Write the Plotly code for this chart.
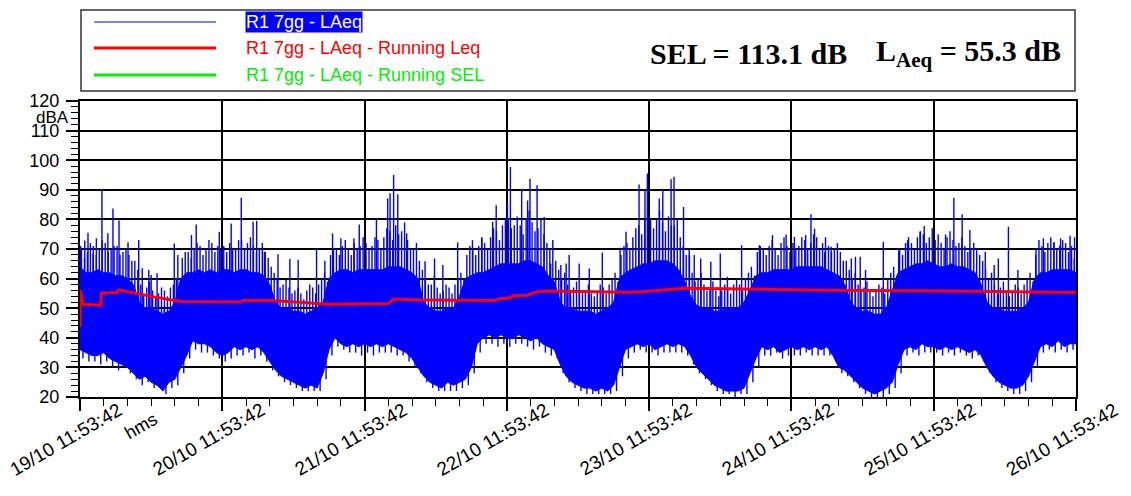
import numpy as np
import pandas as pd
import plotly.graph_objects as go

START = "2023-10-19 11:53:42"
N_DAYS = 7

# ---- LAeq band: hourly envelope (dB), hours 0..168 ----
band_hour = list(range(169))
band_top = [
    64, 62, 62, 63, 62, 62, 61, 61, 60, 58, 52, 50, 50, 49, 48, 49, 52, 60, 62, 62, 63, 62, 63, 62,
    63, 63, 62, 63, 63, 62, 62, 61, 58, 52, 50, 50, 49, 49, 48, 49, 50, 52, 60, 62, 63, 63, 62, 63,
    63, 63, 63, 63, 64, 64, 64, 63, 62, 60, 52, 50, 49, 49, 50, 50, 54, 60, 61, 62, 62, 63, 64, 65,
    65, 65, 65, 66, 66, 65, 64, 61, 59, 52, 50, 50, 49, 49, 49, 48, 49, 50, 52, 60, 62, 63, 64, 65,
    65, 66, 66, 66, 65, 63, 59, 54, 51, 50, 50, 49, 49, 50, 50, 50, 52, 56, 61, 62, 62, 63, 63, 63,
    63, 64, 64, 64, 64, 64, 63, 62, 61, 58, 52, 50, 49, 49, 48, 48, 50, 56, 62, 63, 64, 65, 65, 66,
    65, 64, 64, 65, 64, 64, 63, 62, 58, 52, 50, 50, 49, 49, 49, 50, 52, 60, 62, 62, 63, 63, 63, 63, 62,
]
band_bottom = [
    36, 35, 34, 34, 35, 33, 32, 31, 30, 28, 26, 27, 25, 24, 22, 25, 26, 30, 34, 39, 38, 38, 37, 35,
    34, 35, 37, 36, 37, 36, 37, 35, 32, 29, 27, 26, 25, 24, 23, 24, 23, 28, 36, 40, 38, 37, 38, 37,
    38, 37, 38, 37, 38, 37, 36, 35, 33, 30, 27, 25, 24, 23, 25, 24, 25, 26, 30, 38, 40, 41, 40, 41,
    40, 40, 41, 40, 39, 40, 38, 37, 36, 31, 27, 25, 24, 23, 23, 22, 23, 22, 24, 30, 36, 37, 38, 37,
    38, 36, 37, 38, 37, 38, 37, 34, 30, 28, 26, 24, 23, 22, 22, 22, 23, 28, 33, 37, 36, 37, 35, 36,
    37, 36, 37, 36, 37, 36, 37, 34, 30, 29, 27, 25, 23, 22, 21, 22, 23, 25, 31, 36, 37, 36, 38, 37,
    37, 36, 37, 36, 37, 36, 35, 36, 34, 30, 27, 25, 24, 23, 23, 24, 27, 32, 37, 38, 37, 39, 37, 38, 38,
]

# ---- typical high strokes within each hour (early / late in the hour), dB ----
hour_peak = [
    70, 69, 71, 70, 72, 70, 71, 69, 68, 66, 58, 57, 56, 55, 56, 57, 60, 67, 69, 70, 71, 70, 72, 71,
    71, 72, 70, 73, 72, 71, 70, 69, 64, 60, 58, 57, 56, 55, 56, 57, 58, 62, 68, 70, 71, 70, 72, 71,
    72, 71, 73, 74, 76, 78, 76, 73, 70, 66, 60, 58, 57, 56, 57, 58, 62, 68, 70, 71, 72, 74, 76, 78,
    80, 78, 78, 80, 79, 77, 75, 70, 66, 60, 58, 57, 56, 56, 55, 56, 57, 58, 62, 68, 72, 74, 78, 80,
    80, 80, 79, 81, 78, 74, 68, 62, 60, 58, 57, 56, 56, 57, 58, 58, 60, 64, 69, 70, 71, 70, 72, 71,
    72, 71, 73, 72, 74, 72, 71, 70, 69, 66, 60, 58, 57, 56, 56, 57, 60, 64, 70, 72, 72, 74, 75, 74,
    73, 72, 74, 73, 72, 71, 70, 70, 66, 60, 58, 57, 56, 56, 57, 58, 62, 70, 71, 72, 72, 71, 72, 71,
]
hour_peak2 = [
    67, 72, 68, 73, 69, 71, 68, 70, 66, 63, 55, 59, 54, 57, 54, 58, 57, 69, 67, 72, 68, 73, 69, 70,
    69, 70, 73, 70, 74, 69, 72, 67, 62, 57, 60, 55, 57, 53, 58, 55, 60, 59, 70, 68, 73, 68, 70, 74,
    70, 74, 70, 77, 73, 75, 79, 70, 72, 63, 58, 61, 55, 58, 55, 60, 60, 71, 68, 74, 70, 77, 73, 80,
    77, 81, 75, 83, 76, 80, 72, 73, 63, 62, 56, 59, 55, 58, 54, 58, 55, 60, 59, 71, 70, 77, 75, 82,
    77, 83, 76, 78, 80, 71, 70, 59, 62, 56, 59, 54, 58, 55, 60, 56, 62, 61, 71, 68, 73, 68, 74, 69,
    70, 74, 70, 75, 70, 74, 69, 72, 66, 63, 62, 56, 59, 54, 58, 55, 62, 61, 68, 74, 70, 76, 72, 77,
    75, 70, 76, 71, 74, 69, 72, 68, 63, 62, 55, 59, 54, 58, 55, 60, 59, 73, 69, 74, 70, 73, 69, 74,
]
hour_dip = [
    33, 32, 32, 31, 32, 30, 29, 30, 28, 26, 24, 25, 23, 23, 21, 23, 24, 28, 33, 36, 35, 35, 34, 33,
    32, 33, 34, 34, 35, 33, 34, 32, 29, 27, 25, 24, 23, 22, 22, 22, 22, 26, 34, 37, 36, 35, 35, 34,
    35, 34, 35, 35, 35, 34, 34, 32, 30, 28, 25, 23, 22, 22, 22, 22, 23, 24, 28, 35, 38, 38, 37, 38,
    37, 38, 38, 37, 36, 37, 35, 34, 33, 28, 25, 23, 22, 21, 21, 21, 21, 21, 22, 27, 33, 35, 36, 35,
    35, 34, 35, 35, 35, 35, 34, 31, 28, 26, 24, 22, 21, 21, 20, 21, 21, 25, 30, 34, 34, 35, 33, 34,
    34, 34, 35, 34, 34, 34, 34, 32, 28, 27, 25, 23, 21, 20, 20, 20, 21, 23, 28, 34, 35, 34, 35, 35,
    35, 34, 35, 34, 35, 34, 33, 34, 32, 28, 25, 23, 22, 21, 21, 22, 25, 30, 35, 36, 35, 36, 35, 36,
]

# ---- isolated LAeq peaks (hour, dB) ----
spike_hour = [
    0.1, 0.8, 1.35, 2.2, 2.76, 3.7, 4.7, 5.56, 6.58, 8.1, 9.9, 10.5, 11.6, 12.0, 13.0, 14.2, 15.9, 16.5,
    18.8, 19.6, 23.5, 25.5, 27.2, 29.2, 29.8, 31.1, 33.4, 35.4, 36.8, 39.9, 41.3,
    42.6, 44.0, 46.2, 47.1, 50.0, 51.9, 52.3, 52.9, 53.6, 55.1, 58.2, 59.8, 61.2, 63.7,
    66.2, 67.8, 69.6, 70.2, 72.1, 72.6, 74.5, 75.5, 75.9, 77.1, 78.3, 79.4, 81.1, 82.0, 82.5,
    84.2, 85.9, 88.1, 91.1, 92.1, 94.3, 95.3, 95.7, 97.7, 98.3, 99.7, 100.2, 101.8,
    102.8, 103.6, 104.7, 106.4, 108.0, 109.2, 111.6, 114.6, 116.8, 119.1, 120.5, 122.4, 123.3, 123.9, 125.6,
    126.7, 130.1, 130.8, 131.6, 132.5, 135.5, 138.1, 139.6, 141.7, 142.4, 146.0, 147.4, 148.8, 150.1,
    152.7, 154.2, 154.9, 156.6, 158.2, 161.2, 162.5, 164.3, 165.4, 167.0, 167.7,
]
spike_db = [
    71, 72.9, 75.5, 68.5, 73.6, 90, 75.3, 83.7, 79.6, 72.3, 73.0, 63.5, 62.9, 61.2, 61.8, 50.5, 71.9, 68.0,
    74.7, 78.3, 75.8, 78.6, 87.3, 79.2, 79.5, 69.1, 68.2, 66.6, 66.4, 70.0, 66.0,
    75.3, 73.6, 73.6, 78.3, 80.1, 87.1, 88.8, 95.0, 88.5, 75.3, 65.9, 66.8, 64.6, 72.2,
    73.0, 73.6, 79.2, 84.8, 85.3, 97.7, 90.3, 86.4, 93.7, 91.5, 80.8, 65.1, 64.6, 65.1, 68.0,
    65.1, 63.4, 68.8, 70.4, 75.8, 91.8, 89.9, 95.5, 87.1, 89.9, 93.6, 94.4, 84.2,
    68.0, 68.0, 66.8, 65.7, 68.5, 60.6, 71.3, 71.3, 74.7, 74.9, 74.1, 74.7, 81.7, 76.9, 69.1,
    70.8, 66.8, 67.4, 67.4, 62.9, 72.4, 69.6, 73.0, 75.8, 77.8, 74.9, 87.3, 81.7, 76.4,
    69.1, 64.6, 66.8, 77.5, 62.9, 68.0, 73.6, 72.4, 73.6, 74.5, 66.8,
]

# ---- Running Leq (hour, dB) ----
leq_hour = [0, 0.05, 0.5, 3.5, 3.6, 6.2, 6.5, 8, 12, 17, 27, 27.5, 32.5, 42, 52, 53, 58, 70, 70.5,
            72.7, 73, 75.5, 77, 78.5, 84, 92.4, 95.2, 99.7, 102, 112, 126, 147, 168]
leq_db = [43.7, 56.1, 51.3, 51.0, 55.1, 55.3, 56.2, 55.6, 54.0, 52.3, 52.1, 52.6, 52.6, 51.3, 51.6, 53.1,
          52.8, 52.6, 53.1, 53.5, 54.2, 54.4, 55.6, 55.8, 55.6, 55.4, 55.6, 56.3, 56.7, 56.5, 56.1, 55.8, 55.3]

legend_labels = ["R1 7gg - LAeq", "R1 7gg - LAeq - Running Leq", "R1 7gg - LAeq - Running SEL"]
SEL_TEXT = "SEL = 113.1 dB"
LAEQ_TEXT = "L<sub>Aeq</sub> = 55.3 dB"
y_ticks = list(range(20, 121, 10))
x_tick_days = list(range(N_DAYS + 1))

BLUE = "#0000FF"
RED = "#FF0000"
GREEN = "#00F000"
SANS = "Liberation Sans, Arial, sans-serif"
SERIF = "Liberation Serif, Times New Roman, serif"

t0 = pd.Timestamp(START)
t_end = t0 + pd.Timedelta(days=N_DAYS)


def to_time(h):
    return list(t0 + pd.to_timedelta(np.asarray(h, dtype=float), unit="h"))


fig = go.Figure()

# band polygon
bx = to_time(band_hour)
fig.add_trace(go.Scatter(
    x=bx + bx[::-1], y=band_top + band_bottom[::-1],
    fill="toself", fillcolor=BLUE, mode="lines",
    line=dict(color=BLUE, width=1), hoverinfo="skip"))

# strokes above and below the band
sx, sy = [], []


def add_strokes(hrs, vals, edge, up):
    base = np.interp(hrs, band_hour, edge)
    for t, b, v in zip(to_time(hrs), base, vals):
        sx.extend([t, t, None])
        sy.extend([float(b) - 1 if up else float(b) + 1, v, None])


early = [h + 0.25 for h in band_hour[:-1]]
late = [h + 0.75 for h in band_hour[:-1]]
mid = [h + 0.5 for h in band_hour[:-1]]
add_strokes(early, hour_peak, band_top, True)
add_strokes(late, hour_peak2, band_top, True)
add_strokes(mid, hour_dip, band_bottom, False)
add_strokes(spike_hour, spike_db, band_top, True)
fig.add_trace(go.Scatter(x=sx, y=sy, mode="lines", line=dict(color=BLUE, width=1.4), hoverinfo="skip"))

# running Leq
fig.add_trace(go.Scatter(x=to_time(leq_hour), y=leq_db, mode="lines",
                         line=dict(color=RED, width=3), hoverinfo="skip"))

L, R, T, B = 80, 1076, 101, 397
W, H = 1131, 496

fig.update_layout(
    width=W, height=H,
    margin=dict(l=L, r=W - R, t=T, b=H - B, autoexpand=False),
    paper_bgcolor="white", plot_bgcolor="white",
    showlegend=False,
    font=dict(family=SANS, size=18, color="black"),
)

fig.update_xaxes(
    type="date", range=[t0, t_end], tick0=t0, dtick=86400000,
    showticklabels=False, automargin=False,
    ticks="outside", ticklen=12, tickwidth=1.5, tickcolor="black",
    showgrid=True, gridcolor="black", gridwidth=1.5,
    showline=True, linecolor="black", linewidth=2, mirror=True,
    zeroline=False,
    minor=dict(tick0=t0, dtick=4 * 3600000, ticks="outside", ticklen=7,
               tickcolor="black", tickwidth=1, showgrid=False),
)
fig.update_yaxes(
    range=[20, 120], tickvals=y_ticks, automargin=False, ticklabelstandoff=3,
    ticks="outside", ticklen=12, tickwidth=1.5, tickcolor="black",
    showgrid=True, gridcolor="black", gridwidth=1.5,
    showline=True, linecolor="black", linewidth=2, mirror=True,
    zeroline=False,
    tickfont=dict(size=18, family=SANS),
    minor=dict(dtick=2, ticks="outside", ticklen=7, tickcolor="black", tickwidth=1, showgrid=False),
)


def px(x):
    return (x - L) / (R - L)


def py(y):
    return (B - y) / (B - T)


shapes = [
    dict(type="rect", xref="paper", yref="paper", x0=px(81), x1=px(1075), y0=py(91), y1=py(10),
         line=dict(color="#333333", width=1.5), fillcolor="white", layer="below"),
    dict(type="line", xref="paper", yref="paper", x0=px(94), x1=px(216), y0=py(22), y1=py(22),
         line=dict(color=BLUE, width=1)),
    dict(type="line", xref="paper", yref="paper", x0=px(94), x1=px(216), y0=py(48), y1=py(48),
         line=dict(color=RED, width=3)),
    dict(type="line", xref="paper", yref="paper", x0=px(94), x1=px(216), y0=py(75), y1=py(75),
         line=dict(color=GREEN, width=3)),
]

ann = []
for lab, yy, col, bg in zip(legend_labels, [22, 48, 75], ["white", RED, GREEN], [BLUE, None, None]):
    a = dict(xref="paper", yref="paper", x=px(245), y=py(yy), xanchor="left", yanchor="middle",
             text=lab, showarrow=False, font=dict(size=18, color=col, family=SANS), borderpad=0)
    if bg:
        a["bgcolor"] = bg
    ann.append(a)

ann.append(dict(xref="paper", yref="paper", x=px(849), y=py(53), xanchor="right", yanchor="middle",
                text="<b>" + SEL_TEXT + "</b>", showarrow=False,
                font=dict(size=30, family=SERIF, color="black")))
ann.append(dict(xref="paper", yref="paper", x=px(1063), y=py(53), xanchor="right", yanchor="middle",
                text="<b>" + LAEQ_TEXT + "</b>", showarrow=False,
                font=dict(size=30, family=SERIF, color="black")))
ann.append(dict(xref="paper", yref="paper", x=px(52), y=py(117), xanchor="center", yanchor="middle",
                text="dBA", showarrow=False, font=dict(size=17, family=SANS)))
ann.append(dict(xref="paper", yref="paper", x=px(141), y=py(426), xanchor="center", yanchor="middle",
                text="hms", textangle=-30, showarrow=False, font=dict(size=18, family=SANS)))

# date tick labels, rotated
for d in x_tick_days:
    td = t0 + pd.Timedelta(days=d)
    ann.append(dict(xref="x", yref="paper", x=td, y=py(396), xanchor="right", yanchor="top",
                    xshift=48, text=td.strftime("%d/%m %H:%M:%S"), textangle=-30, showarrow=False,
                    font=dict(size=19, family=SANS, color="black")))

fig.update_layout(shapes=shapes, annotations=ann)
fig.write_html("out.html", post_script="document.body.style.margin='0';",
               config={"displayModeBar": False})
